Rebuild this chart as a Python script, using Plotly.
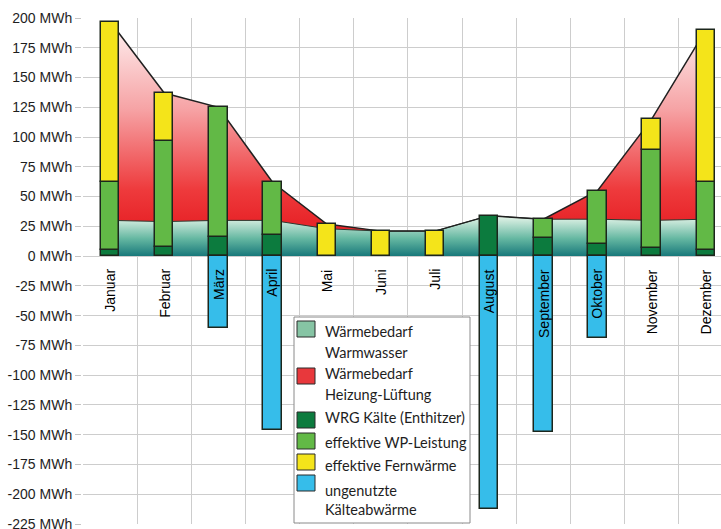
import plotly.graph_objects as go

# Monthly energy balance (MWh)
months = ["Januar", "Februar", "März", "April", "Mai", "Juni", "Juli",
          "August", "September", "Oktober", "November", "Dezember"]
warmwasser = [30, 29, 30, 30, 23, 21, 21, 34, 31, 31, 30, 31]
waermebedarf_gesamt = [197, 137, 125, 62, 27, 21, 21, 34, 31, 55, 115, 190]
wrg_kaelte = [5, 8, 16, 18, None, None, None, 34, 15, 10, 7, 5]
wp_leistung = [57, 89, 109, 44, None, None, None, None, 16, 45, 82, 57]
fernwaerme = [135, 40, None, None, 27, 21, 21, None, None, None, 26, 128]
kaelteabwaerme = [None, None, -60, -146, None, None, None, -212, -148, -69, None, None]
y_ticks = list(range(-225, 201, 25))
y_ticktext = [f"{v} MWh" for v in y_ticks]

legend_items = [
    ("#86c4a4", ["Wärmebedarf", "Warmwasser"]),
    ("#e8383c", ["Wärmebedarf", "Heizung-Lüftung"]),
    ("#0c7b3e", ["WRG Kälte (Enthitzer)"]),
    ("#62b946", ["effektive WP-Leistung"]),
    ("#f4e41a", ["effektive Fernwärme"]),
    ("#36bdea", ["ungenutzte", "Kälteabwärme"]),
]

x = list(range(len(months)))

FIG_W, FIG_H = 721, 529
M_L, M_R, M_T, M_B = 83, 0, 18, 5
PW = FIG_W - M_L - M_R
PH = FIG_H - M_T - M_B


def px(xp):
    return (xp - M_L) / PW


def py(yp):
    return (FIG_H - M_B - yp) / PH


fig = go.Figure()

# demand areas (behind the bars)
fig.add_trace(go.Scatter(
    x=x, y=warmwasser, mode="lines", fill="tozeroy",
    line=dict(color="#2a3a30", width=1),
    fillgradient=dict(type="vertical", start=0, stop=33,
                      colorscale=[[0, "#17787a"], [0.45, "#66b8a2"], [1, "#e2f3e7"]]),
    showlegend=False, zorder=0,
))
fig.add_trace(go.Scatter(
    x=x, y=waermebedarf_gesamt, mode="lines", fill="tonexty",
    line=dict(color="#202020", width=1.5),
    fillgradient=dict(type="vertical", start=30, stop=200,
                      colorscale=[[0, "#e8262a"], [0.15, "#ee3a3c"],
                                  [0.55, "#f6a3a5"], [1, "#fff6f6"]]),
    showlegend=False, zorder=0,
))

bar_line = dict(color="#1c261c", width=1.5)
for vals, col in [(wrg_kaelte, "#0c7b3e"), (wp_leistung, "#62b946"),
                  (fernwaerme, "#f4e41a"), (kaelteabwaerme, "#36bdea")]:
    fig.add_trace(go.Bar(
        x=x, y=vals, width=0.34,
        marker=dict(color=col, line=bar_line),
        showlegend=False, zorder=1,
    ))

# month names written vertically below the zero line
annotations = []
for i, m in enumerate(months):
    annotations.append(dict(
        x=i, y=0, xref="x", yref="y", text=m, showarrow=False,
        textangle=-90, xanchor="center", yanchor="top", yshift=-11,
        font=dict(family="Liberation Sans, Arial, sans-serif", size=14, color="#000000"),
    ))

# legend box
shapes = [dict(type="rect", xref="paper", yref="paper", layer="above",
               x0=px(294), x1=px(470), y0=py(523), y1=py(317),
               fillcolor="white", line=dict(color="#8a8a8a", width=1))]
swatch_centers = [329, 376, 420, 441, 462, 483]
text_lines = [[331, 352], [373, 395], [417], [442], [465], [490, 509]]
for (col, lines), yc, tys in zip(legend_items, swatch_centers, text_lines):
    shapes.append(dict(type="rect", xref="paper", yref="paper", layer="above",
                       x0=px(297), x1=px(315), y0=py(yc + 8), y1=py(yc - 8),
                       fillcolor=col, line=dict(color="#2a2a2a", width=1)))
    for t, ty in zip(lines, tys):
        annotations.append(dict(
            x=px(323), y=py(ty), xref="paper", yref="paper", text=t,
            showarrow=False, xanchor="left", yanchor="middle",
            font=dict(family="Lato, Liberation Sans, sans-serif", size=14.5, color="#1e1e1e"),
        ))

fig.update_layout(
    width=FIG_W, height=FIG_H,
    margin=dict(l=M_L, r=M_R, t=M_T, b=M_B, pad=0, autoexpand=False),
    paper_bgcolor="white", plot_bgcolor="white",
    barmode="relative", bargap=0,
    showlegend=False,
    annotations=annotations, shapes=shapes,
    font=dict(family="Liberation Sans, Arial, sans-serif", size=14, color="#1e1e1e"),
)
fig.update_xaxes(
    range=[-0.5, 11.28], tick0=-0.5, dtick=1, showticklabels=False,
    showgrid=True, gridcolor="#cdcdcd", gridwidth=1,
    showline=True, mirror=True, linecolor="#9a9a9a", linewidth=2,
    zeroline=False, ticks="", automargin=False,
)
fig.update_yaxes(
    range=[-225, 200], tickvals=y_ticks, ticktext=y_ticktext,
    showgrid=True, gridcolor="#cdcdcd", gridwidth=1,
    showline=True, linecolor="#9a9a9a", linewidth=2,
    ticks="outside", ticklen=6, tickcolor="#c4c4c4",
    zeroline=False, ticklabeloverflow="allow", automargin=False,
    tickfont=dict(family="Liberation Sans, Arial, sans-serif", size=14, color="#1e1e1e"),
)

fig.write_html("out.html")
